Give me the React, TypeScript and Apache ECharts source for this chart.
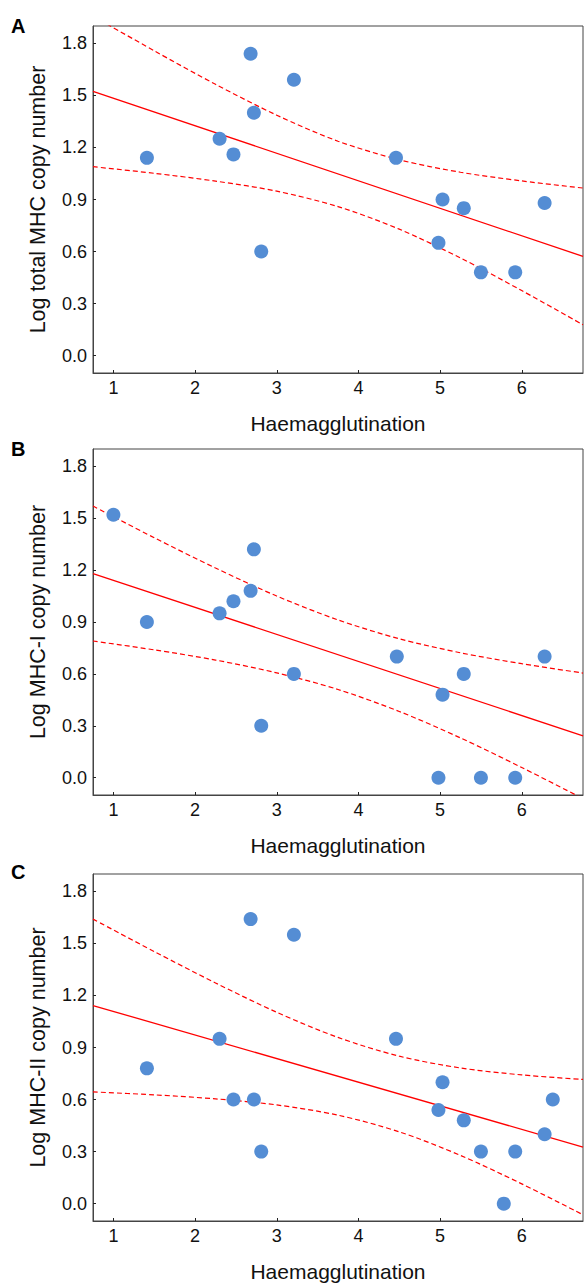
import React, { useEffect, useRef } from "react";
import * as echarts from "echarts";

// ---- data ----
const haemA = [1.41, 2.3, 2.47, 2.68, 2.72, 2.81, 3.21, 4.46, 4.98, 5.03, 5.29, 5.5, 5.92, 6.28];
const totalMHC = [1.14, 1.25, 1.16, 1.74, 1.4, 0.6, 1.59, 1.14, 0.65, 0.9, 0.85, 0.48, 0.48, 0.88];

const haemB = [1.0, 1.41, 2.3, 2.47, 2.68, 2.72, 2.81, 3.21, 4.47, 4.98, 5.03, 5.29, 5.5, 5.92, 6.28];
const mhcI = [1.52, 0.9, 0.95, 1.02, 1.08, 1.32, 0.3, 0.6, 0.7, 0.0, 0.48, 0.6, 0.0, 0.0, 0.7];

const haemC = [1.41, 2.3, 2.47, 2.68, 2.72, 2.81, 3.21, 4.46, 4.98, 5.03, 5.29, 5.5, 5.78, 5.92, 6.28, 6.38];
const mhcII = [0.78, 0.95, 0.6, 1.64, 0.6, 0.3, 1.55, 0.95, 0.54, 0.7, 0.48, 0.3, 0.0, 0.3, 0.4, 0.6];

// regression line end points (at the x-axis limits)
const fitX = [0.75, 6.75];
const fitA = [1.523, 0.572];
const fitB = [1.18, 0.242];
const fitC = [1.142, 0.326];

// 95% confidence band, read at these x positions
const bandX = [0.75, 1.5, 2.25, 3, 3.75, 4.5, 5.25, 6, 6.75];
const upperA = [1.957, 1.757, 1.564, 1.386, 1.236, 1.129, 1.057, 1.007, 0.966];
const lowerA = [1.089, 1.051, 1.006, 0.948, 0.859, 0.729, 0.563, 0.375, 0.178];
const upperB = [1.57, 1.387, 1.212, 1.05, 0.912, 0.803, 0.722, 0.659, 0.605];
const lowerB = [0.79, 0.739, 0.68, 0.606, 0.51, 0.383, 0.23, 0.059, -0.121];
const upperC = [1.64, 1.453, 1.272, 1.103, 0.958, 0.85, 0.782, 0.742, 0.716];
const lowerC = [0.644, 0.627, 0.604, 0.569, 0.51, 0.414, 0.278, 0.114, -0.064];

const xTicks = [1, 2, 3, 4, 5, 6];
const yTicks = [0, 0.3, 0.6, 0.9, 1.2, 1.5, 1.8];
const xName = "Haemagglutination";
const yNames = ["Log total MHC copy number", "Log MHC-I copy number", "Log MHC-II copy number"];
const letters = ["A", "B", "C"];

const FONT = "'Liberation Sans', Arial, sans-serif";

export default function App() {
  const ref = useRef<HTMLDivElement>(null);

  useEffect(() => {
    if (!ref.current) return;
    const chart = echarts.init(ref.current, null, { renderer: "svg" });

    const panels = [
      { xs: haemA, ys: totalMHC, fit: fitA, up: upperA, lo: lowerA },
      { xs: haemB, ys: mhcI, fit: fitB, up: upperB, lo: lowerB },
      { xs: haemC, ys: mhcII, fit: fitC, up: upperC, lo: lowerC },
    ];
    const tops = [26, 449, 874];
    const heights = [347, 346, 347];

    const grid = panels.map((_, i) => ({
      left: 93,
      width: 490,
      top: tops[i],
      height: heights[i],
      show: true,
      borderColor: "#444",
      borderWidth: 1,
      backgroundColor: "transparent",
    }));

    const xAxis = panels.map((_, i) => ({
      type: "value",
      gridIndex: i,
      min: 0.75,
      max: 6.75,
      name: xName,
      nameLocation: "middle",
      nameGap: 40,
      nameTextStyle: { fontSize: 21, color: "#111", fontFamily: FONT },
      axisLine: { show: true, onZero: false, lineStyle: { color: "#444", width: 1 } },
      axisTick: { show: true, inside: true, length: 3, customValues: xTicks, lineStyle: { color: "#222" } },
      axisLabel: {
        customValues: xTicks,
        fontSize: 18,
        color: "#111",
        fontFamily: FONT,
        margin: 6,
        formatter: (v: number) => String(v),
      },
      splitLine: { show: false },
    }));

    const yAxis = panels.map((_, i) => ({
      type: "value",
      gridIndex: i,
      min: -0.1,
      max: 1.9,
      name: yNames[i],
      nameLocation: "middle",
      nameGap: 44,
      nameTextStyle: { fontSize: 21.5, color: "#111", fontFamily: FONT },
      axisLine: { show: true, onZero: false, lineStyle: { color: "#444", width: 1 } },
      axisTick: { show: true, inside: true, length: 3, customValues: yTicks, lineStyle: { color: "#222" } },
      axisLabel: {
        customValues: yTicks,
        fontSize: 18,
        color: "#111",
        fontFamily: FONT,
        margin: 6,
        formatter: (v: number) => Math.abs(v).toFixed(1),
      },
      splitLine: { show: false },
    }));

    const series: any[] = [];
    panels.forEach((p, i) => {
      series.push({
        type: "line",
        xAxisIndex: i,
        yAxisIndex: i,
        data: fitX.map((x, k) => [x, p.fit[k]]),
        symbol: "none",
        lineStyle: { color: "#ff0000", width: 1.3 },
        clip: true,
        z: 2,
      });
      [p.up, p.lo].forEach((band) => {
        series.push({
          type: "line",
          xAxisIndex: i,
          yAxisIndex: i,
          data: bandX.map((x, k) => [x, band[k]]),
          symbol: "none",
          smooth: 0.3,
          lineStyle: { color: "#ff0000", width: 1.2, type: [5, 3] },
          clip: true,
          z: 2,
        });
      });
      series.push({
        type: "scatter",
        xAxisIndex: i,
        yAxisIndex: i,
        data: p.xs.map((x, k) => [x, p.ys[k]]),
        symbol: "circle",
        symbolSize: 14,
        itemStyle: { color: "#548dd4", opacity: 1 },
        z: 3,
      });
    });

    const letterTops = [16, 439, 862];
    const graphic = letters.map((l, i) => ({
      type: "text",
      left: 11,
      top: letterTops[i],
      style: { text: l, font: `bold 20px ${FONT}`, fill: "#000" },
    }));

    chart.setOption({
      animation: false,
      backgroundColor: "#ffffff",
      grid,
      xAxis,
      yAxis,
      series,
      graphic,
    });

    return () => chart.dispose();
  }, []);

  return (
    <div
      ref={ref}
      style={{ position: "absolute", left: 0, top: 0, width: 584, height: 1284 }}
    />
  );
}
